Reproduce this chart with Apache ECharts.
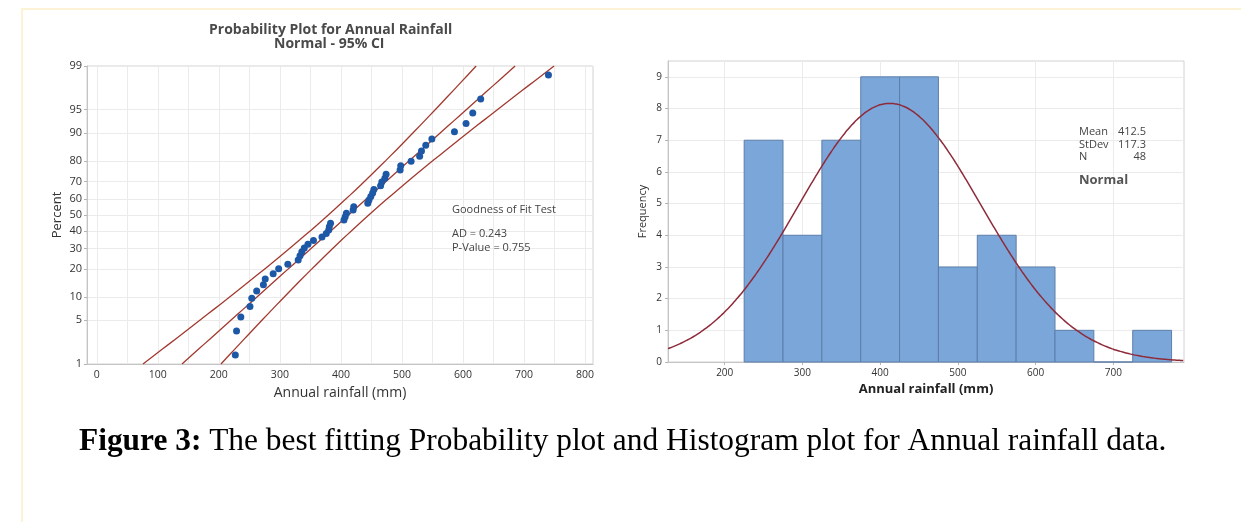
<!DOCTYPE html>
<html>
<head>
<meta charset="utf-8">
<script src="https://cdn.jsdelivr.net/npm/echarts@6/dist/echarts.min.js"></script>
<style>
html, body { margin: 0; background: #fff; }
#main { width: 1241px; height: 522px; }
</style>
</head>
<body>
<div id="main"></div>
<script>
// annual rainfall (mm), sorted
let rainfall = [227, 229, 236, 251, 254, 262, 273, 276, 289, 298, 313, 330, 333, 336, 340, 346,
    355, 369, 376, 380, 381, 383, 405, 407, 409, 420, 421, 444, 446, 449, 452, 454,
    465, 467, 472, 474, 497, 498, 515, 529, 532, 539, 549, 586, 605, 616, 629, 740];
let percentTicks = [1, 5, 10, 20, 30, 40, 50, 60, 70, 80, 90, 95, 99];
let probXTicks = [0, 100, 200, 300, 400, 500, 600, 700, 800];
let probXGrid = [0, 50, 100, 150, 200, 250, 300, 350, 400, 450, 500, 550, 600, 650, 700, 750, 800];

// histogram
let binStart = [225, 275, 325, 375, 425, 475, 525, 575, 625, 675, 725];
let binCount = [7, 4, 7, 9, 9, 3, 4, 3, 1, 0, 1];
let binWidth = 50;
let histXTicks = [200, 300, 400, 500, 600, 700];
let freqTicks = [0, 1, 2, 3, 4, 5, 6, 7, 8, 9];

// fit shown in the chart
let fitMean = 412.5;
let fitStDev = 117.3;
let fitN = 48;
let adStat = 0.243;
let pValue = 0.755;

// inverse normal cdf (Acklam)
function normInv(p) {
    const a = [-3.969683028665376e+01, 2.209460984245205e+02, -2.759285104469687e+02, 1.383577518672690e+02, -3.066479806614716e+01, 2.506628277459239e+00];
    const b = [-5.447609879822406e+01, 1.615858368580409e+02, -1.556989798598866e+02, 6.680131188771972e+01, -1.328068155288572e+01];
    const c = [-7.784894002430293e-03, -3.223964580411365e-01, -2.400758277161838e+00, -2.549671010229416e+00, 4.374664141464968e+00, 2.938163982698783e+00];
    const d = [7.784695709041462e-03, 3.224671290700398e-01, 2.445134137142996e+00, 3.754408661907416e+00];
    const pl = 0.02425;
    let q, r;
    if (p < pl) {
        q = Math.sqrt(-2 * Math.log(p));
        return (((((c[0] * q + c[1]) * q + c[2]) * q + c[3]) * q + c[4]) * q + c[5]) / ((((d[0] * q + d[1]) * q + d[2]) * q + d[3]) * q + 1);
    }
    if (p > 1 - pl) {
        q = Math.sqrt(-2 * Math.log(1 - p));
        return -(((((c[0] * q + c[1]) * q + c[2]) * q + c[3]) * q + c[4]) * q + c[5]) / ((((d[0] * q + d[1]) * q + d[2]) * q + d[3]) * q + 1);
    }
    q = p - 0.5;
    r = q * q;
    return (((((a[0] * r + a[1]) * r + a[2]) * r + a[3]) * r + a[4]) * r + a[5]) * q / (((((b[0] * r + b[1]) * r + b[2]) * r + b[3]) * r + b[4]) * r + 1);
}

// percent axis is drawn in z (normal score) space
let zTicks = percentTicks.map(p => normInv(p / 100));
let zLo = zTicks[0], zHi = zTicks[zTicks.length - 1];

// points: median ranks (Benard)
let probPoints = [];
for (let i = 0; i < rainfall.length; i++) {
    probPoints.push([rainfall[i], normInv((i + 1 - 0.3) / (rainfall.length + 0.4))]);
}

// fitted line and 95% CI
let zCrit = normInv(0.975);
let fitLine = [], ciLow = [], ciHigh = [];
for (let k = 0; k <= 60; k++) {
    let z = zLo + (zHi - zLo) * k / 60;
    let x = fitMean + fitStDev * z;
    let half = zCrit * fitStDev / Math.sqrt(fitN) * Math.sqrt(1 + z * z / 2);
    fitLine.push([x, z]);
    ciLow.push([x - half, z]);
    ciHigh.push([x + half, z]);
}

// normal curve over the histogram
let histMin = 127, histMax = 791;
let normalCurve = [];
for (let x = histMin; x <= histMax; x += 3) {
    let z = (x - fitMean) / fitStDev;
    normalCurve.push([x, fitN * binWidth * Math.exp(-z * z / 2) / (fitStDev * Math.sqrt(2 * Math.PI))]);
}

let histData = [];
for (let i = 0; i < binStart.length; i++) {
    histData.push([binStart[i], binCount[i]]);
}

let font = '"Open Sans", "Noto Sans", sans-serif';
let gridLine = { show: true, lineStyle: { color: '#ebebeb', width: 1 } };
let axisLn = { show: true, onZero: false, lineStyle: { color: '#c4c4c4' } };
let tick = { show: true, length: 3, lineStyle: { color: '#b5b5b5' } };
let ciColor = '#a2392f';
let serif = '"Liberation Serif", "Times New Roman", serif';

let myChart = echarts.init(document.getElementById('main'));
let option = {
    backgroundColor: '#ffffff',
    animation: false,
    grid: [
        { left: 87, right: 648, top: 66, bottom: 158, show: true, borderColor: '#d2d2d2', borderWidth: 1 },
        { left: 668, right: 57, top: 61, bottom: 160, show: true, borderColor: '#d2d2d2', borderWidth: 1 }
    ],
    xAxis: [
        {
            type: 'value', gridIndex: 0, min: -16, max: 813,
            name: 'Annual rainfall (mm)', nameLocation: 'middle', nameGap: 19,
            nameTextStyle: { fontFamily: font, fontSize: 14, color: '#333' },
            axisLine: axisLn,
            axisTick: { show: false, customValues: probXGrid },
            axisLabel: { customValues: probXTicks, fontFamily: font, fontSize: 10.5, color: '#333', margin: 6 },
            splitLine: gridLine
        },
        {
            type: 'value', gridIndex: 1, min: histMin, max: histMax,
            name: 'Annual rainfall (mm)', nameLocation: 'middle', nameGap: 21,
            nameTextStyle: { fontFamily: font, fontSize: 13, fontWeight: 'bold', color: '#222' },
            axisLine: axisLn,
            axisTick: { show: true, length: 3, lineStyle: { color: '#b5b5b5' }, customValues: histXTicks },
            axisLabel: { customValues: histXTicks, fontFamily: font, fontSize: 10, color: '#333', margin: 6 },
            splitLine: gridLine
        }
    ],
    yAxis: [
        {
            type: 'value', gridIndex: 0, min: zLo, max: zHi,
            name: 'Percent', nameLocation: 'middle', nameGap: 23,
            nameTextStyle: { fontFamily: font, fontSize: 13, color: '#333' },
            axisLine: axisLn,
            axisTick: Object.assign({ customValues: zTicks }, tick),
            axisLabel: {
                customValues: zTicks, fontFamily: font, fontSize: 11, color: '#333', margin: 5,
                formatter: function (v) {
                    for (let i = 0; i < zTicks.length; i++) {
                        if (Math.abs(zTicks[i] - v) < 1e-6) return String(percentTicks[i]);
                    }
                    return '';
                }
            },
            splitLine: gridLine
        },
        {
            type: 'value', gridIndex: 1, min: 0, max: 9.5,
            name: 'Frequency', nameLocation: 'middle', nameGap: 20,
            nameTextStyle: { fontFamily: font, fontSize: 11, color: '#333' },
            axisLine: axisLn,
            axisTick: Object.assign({ customValues: freqTicks }, tick),
            axisLabel: { customValues: freqTicks, fontFamily: font, fontSize: 10, color: '#333', margin: 6 },
            splitLine: gridLine
        }
    ],
    series: [
        {
            type: 'line', xAxisIndex: 0, yAxisIndex: 0, data: ciLow, showSymbol: false,
            lineStyle: { color: ciColor, width: 1.3 }, clip: true, z: 3
        },
        {
            type: 'line', xAxisIndex: 0, yAxisIndex: 0, data: fitLine, showSymbol: false,
            lineStyle: { color: ciColor, width: 1.3 }, clip: true, z: 3
        },
        {
            type: 'line', xAxisIndex: 0, yAxisIndex: 0, data: ciHigh, showSymbol: false,
            lineStyle: { color: ciColor, width: 1.3 }, clip: true, z: 3
        },
        {
            type: 'scatter', xAxisIndex: 0, yAxisIndex: 0, data: probPoints,
            symbolSize: 7, itemStyle: { color: '#1d58a6', opacity: 1 }, z: 4
        },
        {
            type: 'custom', xAxisIndex: 1, yAxisIndex: 1, data: histData,
            encode: { x: 0, y: 1 },
            renderItem: function (params, api) {
                let x0 = api.value(0), cnt = api.value(1);
                let p0 = api.coord([x0, cnt]);
                let p1 = api.coord([x0 + binWidth, 0]);
                return {
                    type: 'rect',
                    shape: { x: p0[0], y: p0[1], width: p1[0] - p0[0], height: p1[1] - p0[1] },
                    style: { fill: '#7ba6d9', stroke: '#5c7fa9', lineWidth: 1 }
                };
            },
            z: 2
        },
        {
            type: 'line', xAxisIndex: 1, yAxisIndex: 1, data: normalCurve, showSymbol: false,
            smooth: true, lineStyle: { color: '#8e2b3b', width: 1.5 }, clip: true, z: 4
        }
    ],
    graphic: [
        {
            type: 'polyline', silent: true, z: 100,
            shape: { points: [[22, 522], [22, 9], [1241, 9]] },
            style: { stroke: '#fbefc9', fill: null, lineWidth: 1.5 }
        },
        {
            type: 'text', left: 209, top: 23, z: 100,
            style: { text: 'Probability Plot for Annual Rainfall', font: 'bold 14px ' + font, fill: '#4a4a4a' }
        },
        {
            type: 'text', left: 274, top: 37, z: 100,
            style: { text: 'Normal - 95% CI', font: 'bold 14px ' + font, fill: '#4a4a4a' }
        },
        {
            type: 'text', left: 452, top: 204, z: 100,
            style: { text: 'Goodness of Fit Test', font: '11px ' + font, fill: '#444' }
        },
        {
            type: 'text', left: 452, top: 227, z: 100,
            style: {
                text: 'AD = ' + adStat.toFixed(3) + '\nP-Value = ' + pValue.toFixed(3),
                font: '11px ' + font, fill: '#444', lineHeight: 14
            }
        },
        {
            type: 'text', left: 1079, top: 126, z: 100,
            style: { text: 'Mean\nStDev\nN', font: '11px ' + font, fill: '#444', lineHeight: 12.5 }
        },
        {
            type: 'text', right: 1241 - 1146, top: 126, z: 100,
            style: {
                text: fitMean.toFixed(1) + '\n' + fitStDev.toFixed(1) + '\n' + fitN,
                font: '11px ' + font, fill: '#444', lineHeight: 12.5, align: 'right', textAlign: 'right'
            }
        },
        {
            type: 'text', left: 1079, top: 174, z: 100,
            style: { text: 'Normal', font: 'bold 13px ' + font, fill: '#555' }
        },
        {
            type: 'text', left: 79, top: 426, z: 100,
            style: {
                text: '{b|Figure 3:} The best fitting Probability plot and Histogram plot for Annual rainfall data.',
                font: '31.4px ' + serif, fill: '#000',
                rich: {
                    b: { font: 'bold 31.4px ' + serif, fill: '#000' }
                }
            }
        }
    ]
};
myChart.setOption(option);
</script>
</body>
</html>
